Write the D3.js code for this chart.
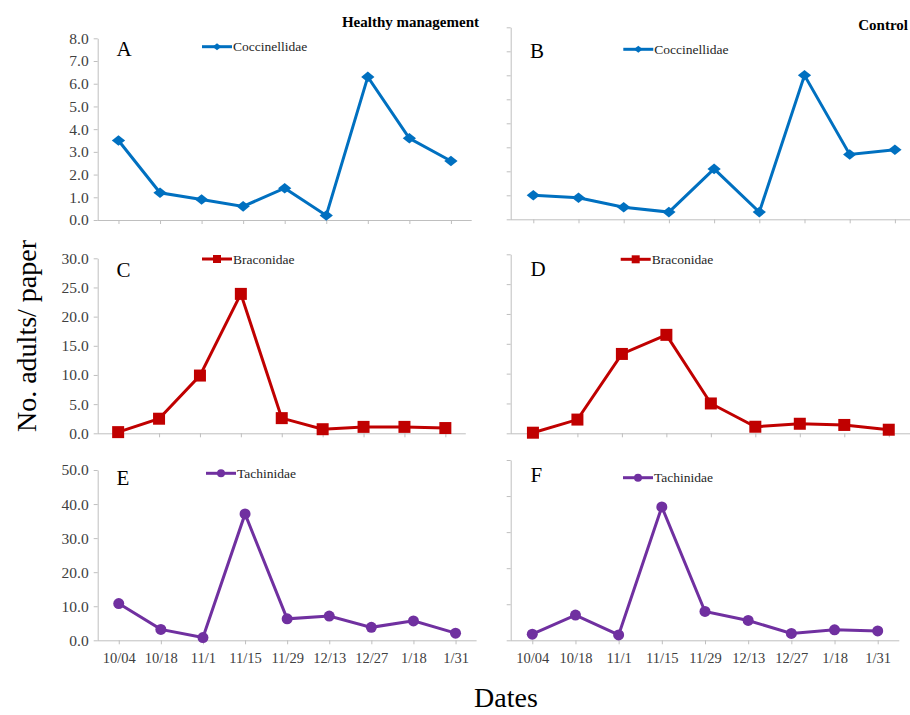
<!DOCTYPE html>
<html>
<head>
<meta charset="utf-8">
<script src="https://cdn.jsdelivr.net/npm/d3@7"></script>
<style>
  body { margin: 0; background: #fff; }
  svg, svg text { font-family: "Liberation Serif", "Times New Roman", "DejaVu Serif", serif; }
  .axis path, .axis line { stroke: #bfbfbf; }
  .axis text { fill: #404040; }
</style>
</head>
<body>
<div id="chart"></div>
<script>
// sampling dates
var dates = ["10/04", "10/18", "11/1", "11/15", "11/29", "12/13", "12/27", "1/18", "1/31"];

// No. adults per paper
var coccHealthy = [3.5, 1.2, 0.9, 0.6, 1.4, 0.2, 6.3, 3.6, 2.6];
var coccControl = [1.0, 0.9, 0.5, 0.3, 2.1, 0.3, 6.0, 2.7, 2.9];
var bracHealthy = [0.2, 2.5, 9.9, 23.9, 2.6, 0.7, 1.1, 1.1, 0.9];
var bracControl = [0.1, 2.3, 13.3, 16.5, 5.0, 1.1, 1.6, 1.4, 0.6];
var tachHealthy = [10.8, 3.2, 0.8, 37.1, 6.3, 7.1, 3.8, 5.7, 2.1];
var tachControl = [1.7, 7.0, 1.5, 37.0, 8.0, 5.5, 1.9, 2.9, 2.6];

var panelLetters = ["A", "B", "C", "D", "E", "F"];
var familyNames = ["Coccinellidae", "Braconidae", "Tachinidae"];
var yMax = [8, 30, 50];
var yStep = [1, 5, 10];

var width = 910, height = 715;
var serif = "'Liberation Serif', 'Times New Roman', serif";

var svg = d3.select("#chart").append("svg")
    .attr("width", width)
    .attr("height", height)
    .attr("font-family", serif);

// per-panel geometry (plot box in pixels)
var panels = [
  { letter: 0, fam: 0, data: coccHealthy, x0: 97.7, x1: 471.7, top: 38.3, bot: 220, left: true,
    leg: { x: 202, y: 46.7 }, let: { x: 116.5, y: 56 } },
  { letter: 1, fam: 0, data: coccControl, x0: 510.7, x1: 917.5, top: 27.3, bot: 219.3, left: false,
    leg: { x: 623.3, y: 49.3 }, let: { x: 530, y: 57.5 } },
  { letter: 2, fam: 1, data: bracHealthy, x0: 97.7, x1: 465.8, top: 258.3, bot: 433.3, left: true,
    leg: { x: 202, y: 259 }, let: { x: 116.5, y: 277 } },
  { letter: 3, fam: 1, data: bracControl, x0: 510.7, x1: 911, top: 254.3, bot: 433.3, left: false,
    leg: { x: 620.7, y: 259.3 }, let: { x: 530.5, y: 276 } },
  { letter: 4, fam: 2, data: tachHealthy, x0: 97.7, x1: 476.6, top: 470, bot: 640.3, left: true,
    leg: { x: 206, y: 473.3 }, let: { x: 116.5, y: 485 } },
  { letter: 5, fam: 2, data: tachControl, x0: 510.7, x1: 899.3, top: 460, bot: 640.3, left: false,
    leg: { x: 623, y: 477.7 }, let: { x: 530.5, y: 482.3 } }
];

var colors = ["#0070c0", "#c00000", "#7030a0"];

function drawMarker(g, fam, cx, cy, s) {
    if (fam == 0) {
        g.append("path")
          .attr("d", d3.symbol().type(d3.symbolDiamond2).size(s * s * 0.5)())
          .attr("transform", "translate(" + cx + "," + cy + ") scale(1.25,1)")
          .attr("fill", colors[fam]);
    } else if (fam == 1) {
        g.append("rect")
          .attr("x", cx - s / 2).attr("y", cy - s / 2)
          .attr("width", s).attr("height", s)
          .attr("fill", colors[fam]);
    } else {
        g.append("circle")
          .attr("cx", cx).attr("cy", cy).attr("r", s / 2)
          .attr("fill", colors[fam]);
    }
}

panels.forEach(function(p) {
    var g = svg.append("g");

    var x = d3.scalePoint().domain(dates).range([p.x0, p.x1]).padding(0.5);
    var y = d3.scaleLinear().domain([0, yMax[p.fam]]).range([p.bot, p.top]);

    var yAxis = d3.axisLeft(y)
      .tickValues(d3.range(0, yMax[p.fam] + yStep[p.fam] / 2, yStep[p.fam]))
      .tickSize(4).tickSizeOuter(0).tickPadding(5);
    if (p.left) yAxis.tickFormat(d3.format(".1f"));
    else yAxis.tickFormat("");

    var yg = g.append("g")
      .attr("class", "axis")
      .attr("transform", "translate(" + p.x0 + ",0)")
      .call(yAxis);
    yg.selectAll("text")
      .attr("font-family", serif)
      .style("font-size", "15.5px");

    var xAxis = d3.axisBottom(x).tickSize(4).tickSizeOuter(0).tickPadding(8);
    if (p.fam != 2) xAxis.tickFormat("");

    var xg = g.append("g")
      .attr("class", "axis")
      .attr("transform", "translate(0," + p.bot + ")")
      .call(xAxis);
    xg.select(".domain").attr("d", "M" + p.x0 + ",0.5H" + p.x1);
    xg.selectAll("text")
      .attr("font-family", serif)
      .style("font-size", "14.5px");

    var line = d3.line()
      .x(function(d, i) { return x(dates[i]); })
      .y(function(d) { return y(d); });

    g.append("path")
      .datum(p.data)
      .attr("fill", "none")
      .attr("stroke", colors[p.fam])
      .attr("stroke-width", 3)
      .attr("d", line);

    p.data.forEach(function(d, i) {
        drawMarker(g, p.fam, x(dates[i]), y(d), p.fam == 2 ? 11 : 12);
    });

    // legend
    g.append("line")
      .attr("x1", p.leg.x).attr("x2", p.leg.x + 30)
      .attr("y1", p.leg.y).attr("y2", p.leg.y)
      .attr("stroke", colors[p.fam])
      .attr("stroke-width", 3);
    drawMarker(g, p.fam, p.leg.x + 15, p.leg.y, 8);
    g.append("text")
      .attr("x", p.leg.x + 31)
      .attr("y", p.leg.y + 4.5)
      .attr("font-family", serif)
      .style("font-size", "13.5px")
      .attr("fill", "#262626")
      .text(familyNames[p.fam]);

    g.append("text")
      .attr("x", p.let.x)
      .attr("y", p.let.y)
      .attr("font-family", serif)
      .style("font-size", "21px")
      .attr("fill", "#000")
      .text(panelLetters[p.letter]);
});

svg.append("text")
  .attr("x", 479).attr("y", 27)
  .attr("text-anchor", "end")
  .attr("font-family", serif)
  .style("font-size", "15px")
  .style("font-weight", "bold")
  .text("Healthy management");

svg.append("text")
  .attr("x", 908).attr("y", 30)
  .attr("text-anchor", "end")
  .attr("font-family", serif)
  .style("font-size", "15px")
  .style("font-weight", "bold")
  .text("Control");

svg.append("text")
  .attr("transform", "translate(36,336) rotate(-90)")
  .attr("text-anchor", "middle")
  .attr("font-family", serif)
  .style("font-size", "28px")
  .text("No. adults/ paper");

svg.append("text")
  .attr("x", 506).attr("y", 707)
  .attr("text-anchor", "middle")
  .attr("font-family", serif)
  .style("font-size", "28px")
  .text("Dates");
</script>
</body>
</html>
